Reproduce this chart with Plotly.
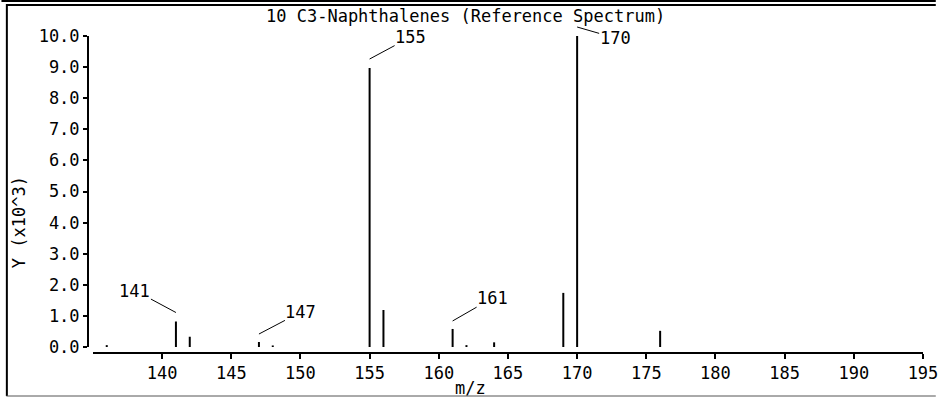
import plotly.graph_objects as go

# ---- data ----
mz = [136, 141, 142, 147, 148, 155, 156, 161, 162, 164, 169, 170, 176]
intensity = [0.06, 0.82, 0.33, 0.16, 0.05, 8.97, 1.19, 0.58, 0.06, 0.15, 1.74, 10.0, 0.52]
labeled_mz = [141, 147, 155, 161, 170]
x_ticks = [140, 145, 150, 155, 160, 165, 170, 175, 180, 185, 190, 195]
y_ticks = [0, 1, 2, 3, 4, 5, 6, 7, 8, 9, 10]
title_text = "10 C3-Naphthalenes (Reference Spectrum)"
x_title = "m/z"
y_title = "Y (x10^3)"

# ---- geometry ----
W, H = 950, 397
L, R, T, B = 88, 13, 36, 44
PW, PH = W - L - R, H - T - B
FONT = "DejaVu Sans Mono"
FS = 17


def px(p):
    return (p - L) / PW


def py(p):
    return (H - B - p) / PH


# label leader offsets (pixels): ax, ay, yshift
label_offsets = {
    141: (-41, -22, 9),
    147: (42, -22, 8),
    155: (41, -22, 9),
    161: (40, -23, 8),
    170: (38, 11, 9),
}

xs, ys = [], []
for m, v in zip(mz, intensity):
    xs += [m, m, None]
    ys += [0, v, None]

fig = go.Figure()
fig.add_trace(go.Scatter(x=xs, y=ys, mode="lines",
                         line=dict(color="black", width=2),
                         hoverinfo="skip", showlegend=False))

annotations = []
for m in labeled_mz:
    v = intensity[mz.index(m)]
    ax, ay, ysh = label_offsets[m]
    annotations.append(dict(
        x=m, y=v, xref="x", yref="y", text=str(m),
        showarrow=True, arrowhead=0, arrowwidth=1, arrowcolor="black",
        ax=ax, ay=ay, axref="pixel", ayref="pixel", yshift=ysh,
        standoff=0, startstandoff=0, borderpad=0,
        font=dict(family=FONT, size=FS, color="black"),
    ))

annotations.append(dict(x=px(472), y=py(16), xref="paper", yref="paper",
                        text=title_text, showarrow=False,
                        xanchor="center", yanchor="middle",
                        font=dict(family=FONT, size=FS, color="black")))
annotations.append(dict(x=px(477), y=py(388), xref="paper", yref="paper",
                        text=x_title, showarrow=False,
                        xanchor="center", yanchor="middle",
                        font=dict(family=FONT, size=FS, color="black")))
annotations.append(dict(x=px(18), y=py(222), xref="paper", yref="paper",
                        text=y_title, showarrow=False, textangle=-90,
                        xanchor="center", yanchor="middle",
                        font=dict(family=FONT, size=FS, color="black")))

shapes = [
    dict(type="line", xref="paper", yref="paper", x0=px(0), x1=px(W), y0=py(1), y1=py(1),
         line=dict(color="black", width=2)),
    dict(type="line", xref="paper", yref="paper", x0=px(5), x1=px(W), y0=py(5), y1=py(5),
         line=dict(color="black", width=2)),
    dict(type="line", xref="paper", yref="paper", x0=px(5.5), x1=px(5.5), y0=py(4), y1=py(396),
         line=dict(color="black", width=2)),
    dict(type="line", xref="paper", yref="paper", x0=px(5), x1=px(W), y0=py(396), y1=py(396),
         line=dict(color="#555555", width=1)),
]

fig.update_layout(
    width=W, height=H,
    margin=dict(l=L, r=R, t=T, b=B, pad=0),
    paper_bgcolor="white", plot_bgcolor="white",
    font=dict(family=FONT, size=FS, color="black"),
    showlegend=False,
    annotations=annotations,
    shapes=shapes,
    xaxis=dict(
        domain=[px(93), 1], range=[135, 195], anchor="free", position=0,
        tickmode="array", tickvals=x_ticks, ticks="outside", ticklen=5,
        tickwidth=2, tickcolor="black", showline=True, linecolor="black",
        linewidth=2, showgrid=False, zeroline=False, ticklabeloverflow="allow",
        tickfont=dict(family=FONT, size=FS, color="black"),
    ),
    yaxis=dict(
        domain=[py(347), 1], range=[0, 10], anchor="free", position=0,
        tickmode="array", tickvals=y_ticks, tickformat=".1f", ticks="outside",
        ticklen=4, tickwidth=2, tickcolor="black", showline=True,
        linecolor="black", linewidth=2, showgrid=False, zeroline=False,
        tickfont=dict(family=FONT, size=FS, color="black"),
    ),
)

fig.write_html("out.html", config={"displayModeBar": False},
               post_script="document.body.style.margin='0';document.body.style.overflow='hidden';")
